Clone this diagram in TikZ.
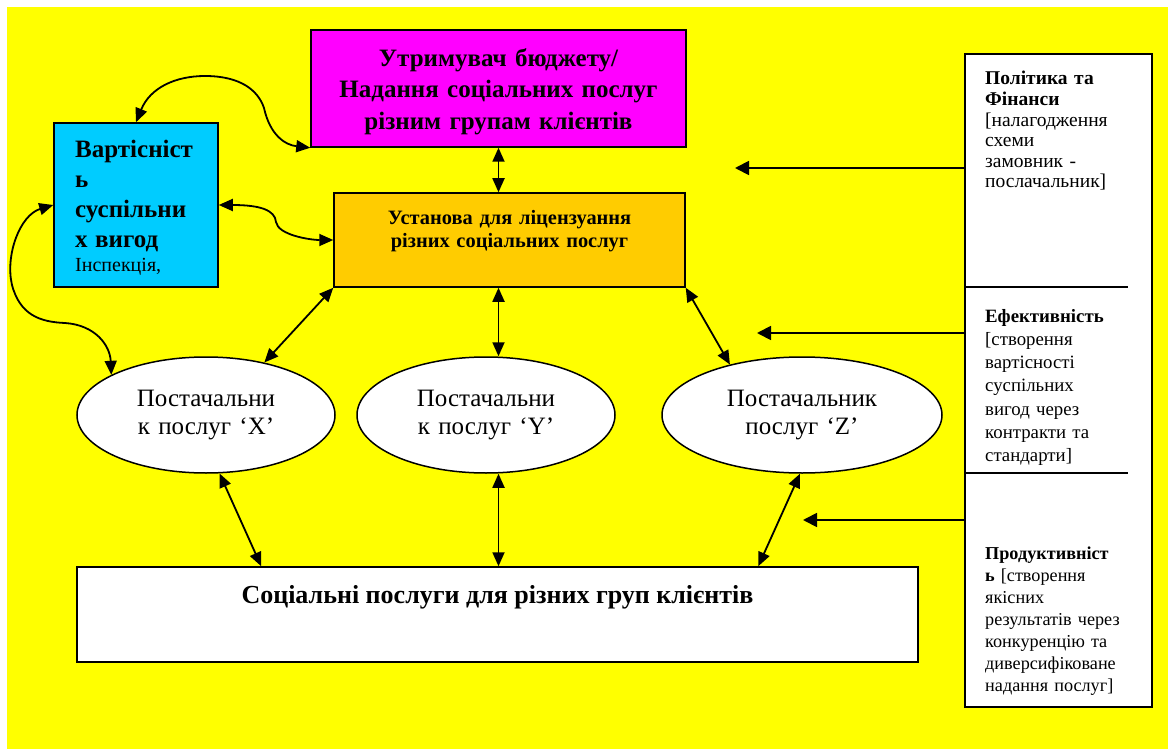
\documentclass[tikz,border=0pt]{standalone}
\usepackage{fontspec}
\setmainfont{Liberation Serif}
\usetikzlibrary{arrows.meta,shapes.geometric}
\definecolor{bgyellow}{HTML}{FFFF00}
\definecolor{boxmag}{HTML}{FF00FF}
\definecolor{boxorange}{HTML}{FFCC00}
\definecolor{boxcyan}{HTML}{00CCFF}
\begin{document}
\begin{tikzpicture}[x=1pt,y=-1pt,
  box/.style={draw=black, line width=1.5pt, inner sep=0pt, rectangle},
  ell/.style={draw=black, line width=1.5pt, ellipse, fill=white, inner sep=0pt,
    minimum height=116pt, align=center, font={\fontsize{25}{28}\selectfont}},
  arr/.style={line width=1.8pt, {Triangle[length=14pt,width=12pt]}-{Triangle[length=14pt,width=12pt]}},
  onearr/.style={line width=1.8pt, -{Triangle[length=14pt,width=14pt]}},
  txt/.style={inner sep=0pt, anchor=base west, align=left},
  ctxt/.style={inner sep=0pt, anchor=base, align=center}
]
\useasboundingbox (0,0) rectangle (1168,749);
\fill[white] (0,0) rectangle (1168,749);
\fill[bgyellow] (7,7) rectangle (1168,749);

% boxes
\node[box, fill=boxmag, minimum width=375pt, minimum height=117pt, text width=370pt, align=center,
  text depth=62pt, font={\fontsize{25}{31.5}\selectfont\bfseries}] (M) at (498.5,88.5)
  {Утримувач бюджету/\\Надання соціальних послуг\\різним групам клієнтів};
\node[box, fill=boxorange, minimum width=351pt, minimum height=94pt] (O) at (509.5,240) {};
\node[ctxt, text width=340pt, font={\fontsize{20.4}{24}\selectfont\bfseries}] (Ot) at (509.5,224)
  {Установа для ліцензуання\\різних соціальних послуг};
\node[box, fill=boxcyan, minimum width=164pt, minimum height=164pt] (C) at (136,205) {};
\node[txt, text width=140pt] (Ct) at (75,158)
  {{\fontsize{25}{30}\selectfont\bfseries Вартісніст\\ь\\суспільни\\х\hspace{0.3em}вигод\par}%
   {\fontsize{20}{24}\selectfont Інспекція,\par}};
\node[box, fill=white, minimum width=187pt, minimum height=653pt] (R) at (1058.5,380.5) {};
\node[box, fill=white, minimum width=841pt, minimum height=95pt] (B) at (497.5,614.5) {};
\node[ctxt, font={\fontsize{26}{30}\selectfont\bfseries}] (Bt) at (497.5,603)
  {Соціальні послуги для різних груп клієнтів};

% ellipses
\node[ell, minimum width=258pt, text width=170pt] (X) at (206,415) {Постачальни\\к послуг ‘X’};
\node[ell, minimum width=258pt, text width=170pt] (Y) at (486,415) {Постачальни\\к послуг ‘Y’};
\node[ell, minimum width=280pt, text width=190pt] (Z) at (802,415) {Постачальник\\послуг ‘Z’};

% right box dividers and texts
\draw[line width=1.5pt] (R.west |- 0,287) -- (1128,287);
\draw[line width=1.5pt] (R.west |- 0,473) -- (1128,473);
\node[txt, text width=165pt, font={\fontsize{19.5}{20.6}\selectfont}] (R1) at (985,85)
  {{\bfseries Політика та\\Фінанси}\\{[}налагодження\\схеми\\замовник -\\послачальник{]}};
\node[txt, text width=165pt, font={\fontsize{18.8}{23.3}\selectfont}] (R2) at (985,322)
  {{\bfseries Ефективність}\\{[}створення\\вартісності\\суспільних\\вигод через\\контракти та\\стандарти{]}};
\node[txt, text width=165pt, font={\fontsize{18.2}{22}\selectfont}] (R3) at (985,559)
  {{\bfseries Продуктивніст\\ь} {[}створення\\якісних\\результатів через\\конкуренцію та\\диверсифіковане\\надання послуг{]}};

% arrows from right box
\coordinate (t1) at (735,168);
\coordinate (t2) at (757,333);
\coordinate (t3) at (803,520);
\draw[onearr] (R.west |- t1) -- (t1);
\draw[onearr] (R.west |- t2) -- (t2);
\draw[onearr] (R.west |- t3) -- (t3);

% straight connectors
\draw[arr] (M.south) -- (M.south |- O.north);
\draw[arr] (O.south west) -- (X.42);
\draw[arr] (O.south -| M.south) -- (Y.north -| M.south);
\draw[arr] (O.south east) -- (Z.145);
\draw[arr] (X.-77) -- ([xshift=185pt]B.north west);
\draw[arr] (Y.south -| M.south) -- (B.north -| M.south);
\draw[arr] (Z.-92) -- ([xshift=682pt]B.north west);

% curved connectors
\draw[arr] (C.north) .. controls (150,88) and (175,76) .. (205,76)
  .. controls (240,76) and (258,90) .. (264,108)
  .. controls (270,135) and (285,145) .. (M.south west);
\draw[arr] (C.east) .. controls (260,205) and (275,210) .. (276,222)
  .. controls (278,235) and (310,240) .. (O.west);
\draw[arr] (C.west) .. controls (20,215) and (5,255) .. (12,285)
  .. controls (20,315) and (40,322) .. (65,323)
  .. controls (95,325) and (110,345) .. (X.157);
\end{tikzpicture}
\end{document}
